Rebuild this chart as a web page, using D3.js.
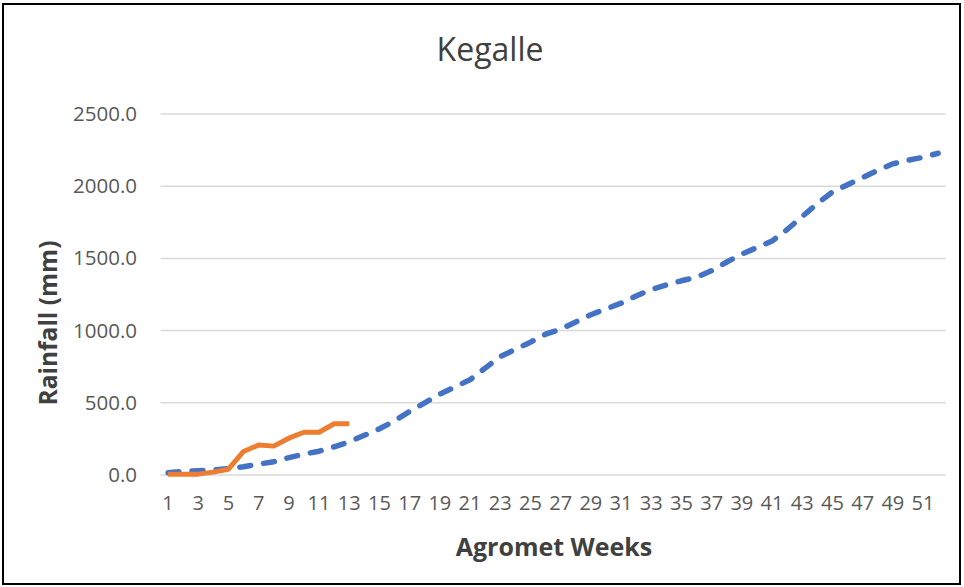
<!DOCTYPE html>
<html><head><meta charset="utf-8">
<script src="https://cdn.jsdelivr.net/npm/d3@7"></script>
<style>body{margin:0;background:#fff}svg{display:block;font-family:"Open Sans",sans-serif}</style>
</head><body><svg id="c" width="964" height="587"></svg>
<script>
const weeks = d3.range(1, 53);
const tickLabels = d3.range(1, 53, 2);
const yTicks = [0, 500, 1000, 1500, 2000, 2500];
const longTermAvg = [16,24,30,35,45,57,75,92,120,145,165,195,230,275,320,375,440,500,560,610,660,740,820,870,920,975,1010,1060,1110,1150,1190,1240,1285,1316,1345,1370,1415,1475,1530,1575,1620,1700,1790,1880,1960,2010,2060,2110,2155,2180,2200,2228];
const currentYear = [5,5,6,20,40,163,208,200,255,296,296,355,355];

const FONT = '"Open Sans",sans-serif';
const svg = d3.select('#c');
svg.append('rect').attr('x',3).attr('y',4).attr('width',957).attr('height',580)
  .attr('fill','#fff').attr('stroke','#000').attr('stroke-width',2);

const x = d3.scaleBand().domain(weeks).range([160.5, 945.7]);
const y = d3.scaleLinear().domain([0,2500]).range([475, 114]);

svg.append('g').selectAll('line').data(yTicks).join('line')
  .attr('x1',160.5).attr('x2',945.7)
  .attr('y1',d=>y(d)).attr('y2',d=>y(d))
  .attr('stroke','#d9d9d9').attr('stroke-width',1.5);

const ya = svg.append('g').attr('transform','translate(150,0)')
  .call(d3.axisLeft(y).tickValues(yTicks).tickFormat(d3.format('.1f')).tickSize(0).tickPadding(13));
ya.select('.domain').remove();
ya.selectAll('text').attr('font-size',20.5).attr('fill','#595959').attr('font-family',FONT);

const xa = svg.append('g').attr('transform','translate(0,490)')
  .call(d3.axisBottom(x).tickValues(tickLabels).tickSize(0).tickPadding(6));
xa.select('.domain').remove();
xa.selectAll('text').attr('font-size',20).attr('fill','#595959').attr('font-family',FONT);

const cx = d => x(d) + x.bandwidth()/2;

svg.append('path').datum(longTermAvg)
  .attr('fill','none').attr('stroke','#4472c4').attr('stroke-width',5.5)
  .attr('stroke-dasharray','11,13').attr('stroke-linecap','round').attr('stroke-linejoin','round')
  .attr('d', d3.line().x((d,i)=>cx(weeks[i])).y(d=>y(d)));

svg.append('path').datum(currentYear)
  .attr('fill','none').attr('stroke','#ed7d31').attr('stroke-width',5)
  .attr('stroke-linejoin','round').attr('stroke-linecap','butt')
  .attr('d', d3.line().x((d,i)=>cx(weeks[i])).y(d=>y(d)));

svg.append('text').attr('x',490).attr('y',61).attr('text-anchor','middle')
  .attr('font-size',32).attr('fill','#404040').text('Kegalle');
svg.append('text').attr('x',554).attr('y',556).attr('text-anchor','middle')
  .attr('font-size',25).attr('font-weight','bold').attr('fill','#404040').text('Agromet Weeks');
svg.append('text').attr('transform','translate(57,323) rotate(-90)').attr('text-anchor','middle')
  .attr('font-size',24.5).attr('font-weight','bold').attr('fill','#404040').text('Rainfall (mm)');
</script></body></html>
